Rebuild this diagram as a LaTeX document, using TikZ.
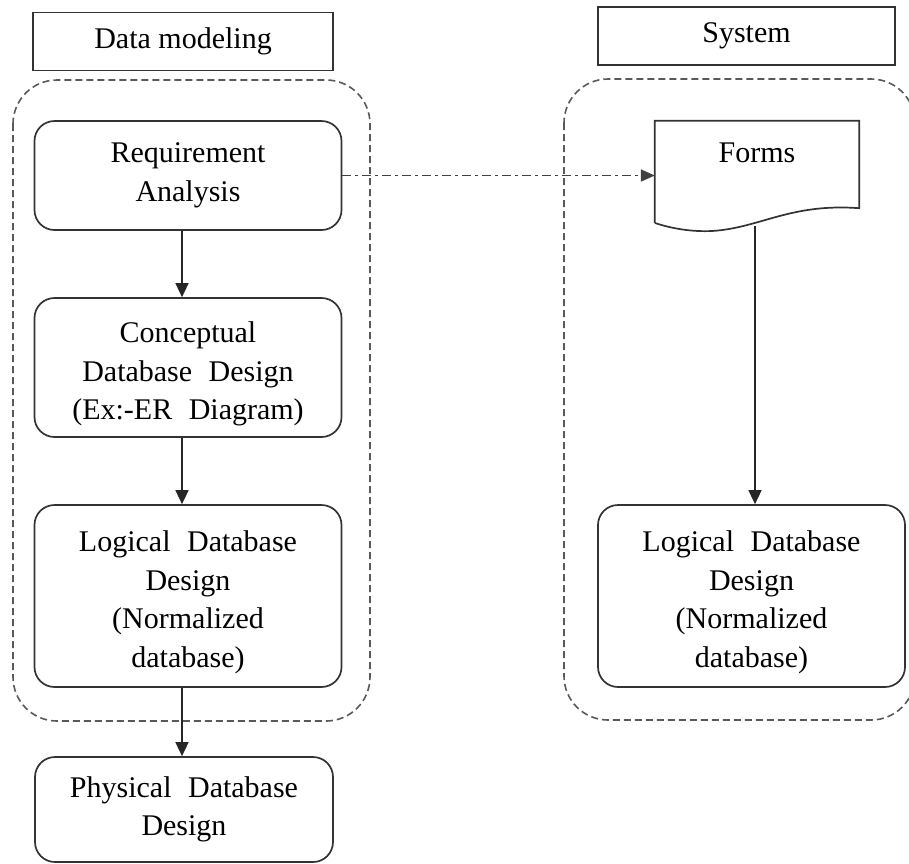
\documentclass[tikz,border=0pt]{standalone}
\usepackage{fontspec}
\setmainfont{Liberation Serif}
\newfontfamily\widefont{Liberation Serif}[WordSpace=2.2]
\usetikzlibrary{arrows.meta}
\begin{document}
\begin{tikzpicture}[x=1pt,y=-1pt,
  lbl/.style={draw=black!80,line width=1.7pt,minimum width=300pt,minimum height=58pt,inner sep=0pt,font=\fontsize{30}{38}\selectfont},
  stepbox/.style={draw=black!80,line width=1.7pt,rounded corners=20pt,minimum width=307pt,inner sep=0pt,align=center,font=\widefont\fontsize{30}{38.5}\selectfont},
  group/.style={draw=black!65,line width=1.6pt,dash pattern=on 7pt off 4pt,rounded corners=44pt},
  arr/.style={draw=black!85,line width=1.5pt,-{Triangle[length=14pt,width=13pt]}},
  dotarr/.style={draw=black!75,line width=1.6pt,dash pattern=on 9pt off 4pt on 3pt off 4pt,-{Triangle[length=14pt,width=12pt]}}]
\useasboundingbox (0,0) rectangle (909,863);
% group containers
\draw[group] (13,80) rectangle (370,721);
\draw[group] (564,79) rectangle (915,720);
% header labels
\node[lbl] (dm) at (183,41.5) {Data modeling};
\node[lbl,minimum width=297pt] (sys) at (746.5,36) {System};
% left column
\node[stepbox,minimum height=109pt] (req) at (188,175.5) {Requirement\\Analysis};
\node[stepbox,minimum height=139pt] (con) at (188,367.5) {\rule{0pt}{34pt}Conceptual\\Database Design\\(Ex:-ER Diagram)};
\node[stepbox,minimum height=182pt] (logl) at (188,596) {\rule{0pt}{33pt}Logical Database\\Design\\(Normalized\\database)};
\node[stepbox,minimum width=298pt,minimum height=105pt] (phys) at (184,809.5) {Physical Database\\Design};
% right column
\node[inner sep=0pt,minimum width=204pt,minimum height=87pt] (forms) at (757,164.5) {};
\draw[draw=black!80,line width=1.7pt] (forms.south west) ++(0,15) -- (forms.north west) -- (forms.north east) -- (forms.south east)
  .. controls (790,203) and (760,228) .. (712,231)
  .. controls (690,232) and (670,228) .. (655,223);
\node[anchor=base,inner sep=0pt,font=\fontsize{30}{38}\selectfont] (formstext) at (757,162) {Forms};
\coordinate (formsbot) at (755,226);
\node[stepbox,minimum height=182pt] (logr) at (751.5,596) {\rule{0pt}{33pt}Logical Database\\Design\\(Normalized\\database)};
% connectors
\draw[arr] (req.south -| 182,0) -- (con.north -| 182,0);
\draw[arr] (con.south -| 182,0) -- (logl.north -| 182,0);
\draw[arr] (logl.south -| 182,0) -- (phys.north -| 182,0);
\draw[arr] (formsbot) -- (formsbot |- logr.north);
\draw[dotarr] (req.east) -- (req.east -| forms.west);
\end{tikzpicture}
\end{document}
